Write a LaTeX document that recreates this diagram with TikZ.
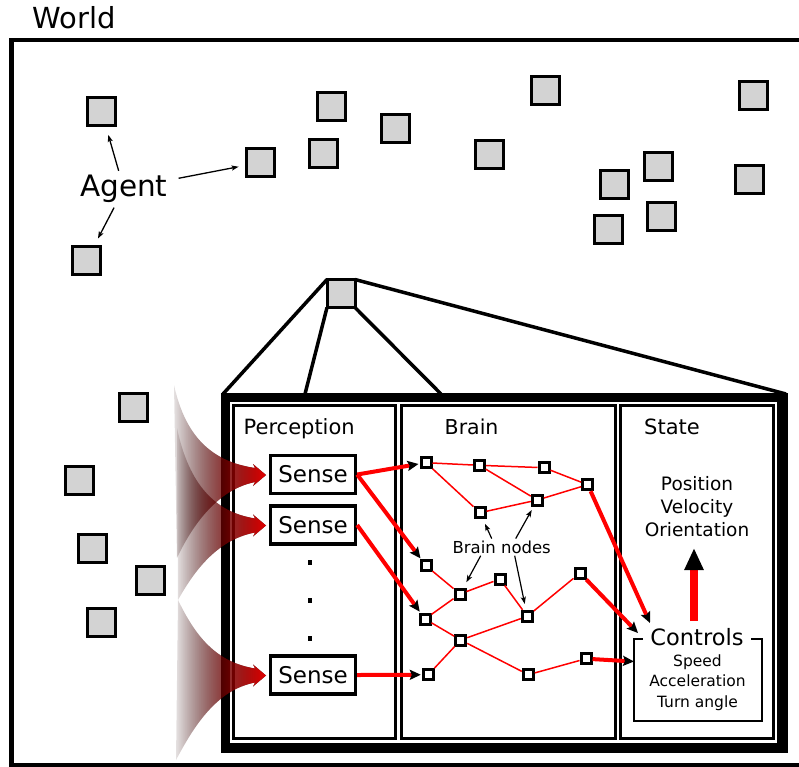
\documentclass[tikz,border=0pt]{standalone}
\usepackage{fontspec}
\setmainfont{DejaVu Sans}
\usetikzlibrary{arrows.meta,fadings,calc}
\begin{tikzfadingfrompicture}[name=beamfade]
\shade[left color=transparent!100, middle color=transparent!30, right color=transparent!0] (0,0) rectangle (2,2);
\end{tikzfadingfrompicture}
\begin{document}
\begin{tikzpicture}[x=1pt,y=-1pt,
  agentsq/.style={draw=black, fill={rgb,255:red,211;green,211;blue,211}, line width=3pt, minimum size=28pt, inner sep=0pt, outer sep=0pt},
  bnode/.style={draw=black, fill=white, line width=3pt, minimum size=10pt, inner sep=0pt},
  sensebox/.style={draw=black, fill=white, line width=3.3pt, minimum width=85pt, minimum height=38pt, inner sep=0pt, font=\fontsize{23}{27}\selectfont},
  lbl/.style={inner sep=0pt, anchor=base west},
  panel/.style={draw=black, line width=3pt},
  redline/.style={red, line width=1.5pt},
  redarrow/.style={red, line width=4pt, shorten >=1pt, -{Stealth[length=11pt,width=10pt,inset=2pt,black]}},
  thinarrow/.style={black, line width=1.3pt, -{Stealth[length=7pt,width=5pt,inset=1.5pt]}},
  zoomline/.style={black, line width=3.5pt},
  dotnode/.style={fill=black, minimum size=4.5pt, inner sep=0pt},
  beam/.style={left color=red!30!black, middle color=red!40!black, right color=red!95!black, path fading=beamfade, fit fading=true}
]
\clip (0,0) rectangle (799,766);
\fill[white] (0,0) rectangle (799,766);

% World
\node[lbl, font=\fontsize{29}{34}\selectfont] (world) at (32.5,28.3) {World};
\draw[line width=4.5pt] (830,40) -- (11.7,40) -- (11.7,765.5) -- (830,765.5);

% agent squares
\foreach \n/\x/\y in {w1/101.5/111.3, w2/86.5/260.5, w3/260.5/162.5, w4/331/106.5, w5/323/153.5,
  w6/395.5/128.5, w7/545.5/90.5, w8/489/154.5, w9/753/95.5, w10/658/166.5, w11/614.5/184.5,
  w12/661.5/216, w13/608.5/229, w14/749.5/179.5, w16/133.5/407, w17/79/480, w18/92/548,
  w19/150.5/580.5, w20/101.5/622.5}
  \node[agentsq] (\n) at (\x,\y) {};

% Agent label
\node[lbl, font=\fontsize{29.5}{35}\selectfont, inner sep=3pt] (agent) at (77,196.5) {Agent};
\draw[thinarrow, shorten <=1pt, shorten >=10pt] (agent) -- (w1);
\draw[thinarrow, shorten <=2pt, shorten >=9pt] (agent) -- (w2);
\draw[thinarrow, shorten <=8pt, shorten >=8pt] (agent) -- (w3);

% big frame
\node[fill=black, minimum width=567pt, minimum height=359.5pt, inner sep=0pt, outer sep=0pt] (frame) at (504.5,572.75) {};
\node[agentsq] (w15) at (341,293.5) {};
\draw[zoomline] (w15.north west) -- ($(frame.north west)+(2,1)$);
\draw[zoomline] (w15.south west) -- ($(frame.north west)+(84,1)$);
\draw[zoomline] (w15.south east) -- ($(frame.north west)+(220,1)$);
\draw[zoomline] (w15.north east) -- ($(frame.north east)+(-2,1)$);
\node[agentsq] at (w15) {};
\fill[white] (230,402) rectangle (777,742.5);
\draw[panel] (233.5,405.5) rectangle (395,738.5);
\draw[panel] (401,405.5) rectangle (615,738.5);
\draw[panel] (620.5,405.5) rectangle (773.5,738.5);

% beams
\fill[beam] (174,385) .. controls (186,440) and (215,462) .. (255,468) -- (253,464) -- (266,475) -- (253,486) -- (255,482) .. controls (215,490) and (190,530) .. (177,558) -- cycle;
\fill[beam] (177,428) .. controls (189,485) and (215,512) .. (255,518.5) -- (253,514.5) -- (266,525.5) -- (253,536.5) -- (255,532.5) .. controls (215,540) and (192,575) .. (178,600) -- cycle;
\fill[beam] (178,600) .. controls (195,635) and (215,662) .. (255,668.5) -- (253,664.5) -- (266,675.5) -- (253,686.5) -- (255,682.5) .. controls (215,690) and (192,730) .. (176,760) -- cycle;

% labels
\node[lbl, font=\fontsize{21}{25}\selectfont] (perc) at (243.5,434.3) {Perception};
\node[lbl, font=\fontsize{20.5}{25}\selectfont] (brain) at (444.5,434.3) {Brain};
\node[lbl, font=\fontsize{21}{25}\selectfont] (state) at (644,434.3) {State};

% sense boxes
\node[sensebox] (s1) at (313,474.5) {Sense};
\node[sensebox] (s2) at (313,525) {Sense};
\node[sensebox] (s3) at (313,675) {Sense};
\node[dotnode] (d1) at (310,562.7) {};
\node[dotnode] (d2) at (310,600.7) {};
\node[dotnode] (d3) at (310,638.3) {};

% brain nodes
\foreach \n/\x/\y in {n1/426/462.7, n2/479.3/465.3, n3/544/467.7, n4/587.7/484.7, n5/537.3/500,
  n6/480/512.7, n7/426/565.7, n8/460/594, n9/500/579, n10/580/573, n11/527.3/616.3,
  n12/425/619, n13/460.7/640, n14/428.3/674.7, n15/528.3/674.7, n16/586/658.7}
  \node[bnode] (\n) at (\x,\y) {};
\foreach \a/\b in {n1/n2,n1/n6,n2/n3,n2/n5,n3/n4,n6/n5,n5/n4,n7/n8,n8/n9,n9/n11,n11/n10,n12/n8,n12/n13,n13/n11,n13/n15,n14/n13,n15/n16}
  \draw[redline] (\a) -- (\b);

% brain nodes label
\node[inner sep=2pt, anchor=base, font=\fontsize{16.5}{20}\selectfont] (bn) at (501.7,553.3) {Brain nodes};
\draw[thinarrow, line width=1.2pt, shorten >=5pt] ($(bn.north)+(-10,0)$) -- (n6);
\draw[thinarrow, line width=1.2pt, shorten >=4pt] ($(bn.north)+(14,0)$) -- (n5);
\draw[thinarrow, line width=1.2pt, shorten >=6pt] ($(bn.south)+(-21,0)$) -- (n8);
\draw[thinarrow, line width=1.2pt, shorten >=6pt] ($(bn.south)+(13,0)$) -- (n11);

% state panel
\node[anchor=base, inner sep=0pt, font=\fontsize{18.5}{22}\selectfont] (pos) at (697,490) {Position};
\node[anchor=base, inner sep=0pt, font=\fontsize{18.5}{22}\selectfont] (vel) at (697,513.5) {Velocity};
\node[anchor=base, inner sep=0pt, font=\fontsize{18.5}{22}\selectfont] (ori) at (697,536.7) {Orientation};
\draw[line width=1.5pt] (634,639) rectangle (762,721);
\node[anchor=base, fill=white, inner xsep=7pt, inner ysep=1pt, font=\fontsize{22.5}{27}\selectfont] (ctrl) at (697,645) {Controls};
\node[anchor=base, inner sep=0pt, font=\fontsize{15.5}{18}\selectfont] (spd) at (697.5,666) {Speed};
\node[anchor=base, inner sep=0pt, font=\fontsize{15.5}{18}\selectfont] (acc) at (697.5,686.7) {Acceleration};
\node[anchor=base, inner sep=0pt, font=\fontsize{15.5}{18}\selectfont] (turn) at (697.5,707.3) {Turn angle};
\coordinate (sa) at (694,621);
\coordinate (st) at (694,548);
\draw[red, line width=8pt, -{Triangle[length=22pt,width=18pt,black]}] (sa) -- (st);

% red arrows
\coordinate (c1) at (650,623);
\coordinate (c2) at (638,633);
\coordinate (c3) at (634,661.5);
\draw[redarrow] (s1.east) -- (n1);
\draw[redarrow] (s1.east) -- (n7);
\draw[redarrow] (s2.east) -- (n12);
\draw[redarrow] (s3.east) -- (n14);
\draw[redarrow, shorten >=0pt] (n4) -- (c1);
\draw[redarrow, shorten >=0pt] (n10) -- (c2);
\draw[redarrow, shorten >=0pt] (n16) -- (c3);
\end{tikzpicture}
\end{document}
